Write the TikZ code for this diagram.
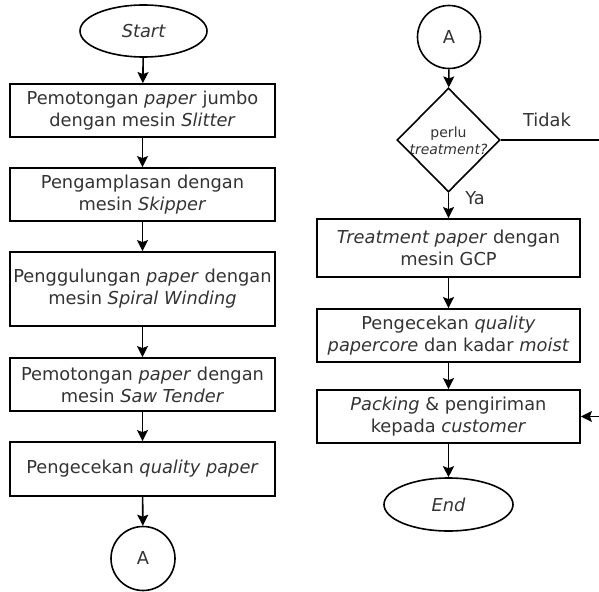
\documentclass[tikz,border=0pt]{standalone}
\usepackage{fontspec}
\setmainfont{DejaVu Sans}
\usetikzlibrary{shapes.geometric,arrows.meta}
\definecolor{txt}{HTML}{333333}
\begin{document}
\begin{tikzpicture}[x=1pt,y=-1pt,
  every node/.style={text=txt,font=\fontsize{17.8}{22}\selectfont},
  procbox/.style={draw=black,line width=1.8pt,rectangle,inner sep=0pt,align=center},
  term/.style={draw=black,line width=1.6pt,ellipse,inner sep=0pt},
  conn/.style={draw=black,line width=1.6pt,circle,inner sep=0pt,minimum size=64pt},
  decide/.style={draw=black,line width=1.6pt,diamond,inner sep=0pt,minimum width=103pt,minimum height=104pt,align=center},
  flow/.style={draw=black,line width=1.6pt,-{Stealth[length=11pt,width=11pt,inset=2pt]}}]
\useasboundingbox (0,0) rectangle (599,591);
% left column
\node[term,minimum width=127pt,minimum height=52pt] (start) at (143.5,31) {\itshape Start};
\node[procbox,minimum width=265pt,minimum height=53pt] (b1) at (142.5,110.5) {Pemotongan \textit{paper} jumbo\\dengan mesin \textit{Slitter}};
\node[procbox,minimum width=265pt,minimum height=53pt] (b2) at (142.5,194.5) {Pengamplasan dengan\\mesin \textit{Skipper}};
\node[procbox,minimum width=265pt,minimum height=74pt] (b3) at (142.5,289) {Penggulungan \textit{paper} dengan\\mesin \textit{Spiral Winding}};
\node[procbox,minimum width=265pt,minimum height=53pt] (b4) at (142.5,384.5) {Pemotongan \textit{paper} dengan\\mesin \textit{Saw Tender}};
\node[procbox,minimum width=265pt,minimum height=54pt] (b5) at (142.5,469) {Pengecekan \textit{quality paper}};
\node[conn] (a1) at (143,558.5) {A};
% right column
\node[conn,minimum size=63pt] (a2) at (449,37) {A};
\node[decide] (dec) at (448.5,140) {};
\node[font=\fontsize{14}{16.5}\selectfont,align=center] (dectext) at (448.5,141) {perlu\\\textit{treatment?}};
\node[procbox,minimum width=263pt,minimum height=58pt] (b6) at (448.5,248) {\textit{Treatment paper} dengan\\mesin GCP};
\node[procbox,minimum width=263pt,minimum height=53pt] (b7) at (448.5,335.5) {Pengecekan \textit{quality}\\\textit{papercore} dan kadar \textit{moist}};
\node[procbox,minimum width=263pt,minimum height=53pt] (b8) at (448.5,416.5) {\textit{Packing} \& pengiriman\\kepada \textit{customer}};
\node[term,minimum width=129pt,minimum height=53pt] (end) at (448.5,504.5) {\itshape End};
\node (tidak) at (547,120) {Tidak};
\node (ya) at (475,198) {Ya};
\coordinate (c1) at (601,140);
\coordinate (c2) at (601,416.5);
% connectors
\draw[flow] (start) -- (b1);
\draw[flow] (b1) -- (b2);
\draw[flow] (b2) -- (b3);
\draw[flow] (b3) -- (b4);
\draw[flow] (b4) -- (b5);
\draw[flow] (b5) -- (a1);
\draw[flow] (a2) -- (dec);
\draw[flow] (dec) -- (b6);
\draw[flow] (b6) -- (b7);
\draw[flow] (b7) -- (b8);
\draw[flow] (b8) -- (end);
\draw[flow] (dec.east) -- (c1) -- (c2) -- (b8.east);
\end{tikzpicture}
\end{document}
